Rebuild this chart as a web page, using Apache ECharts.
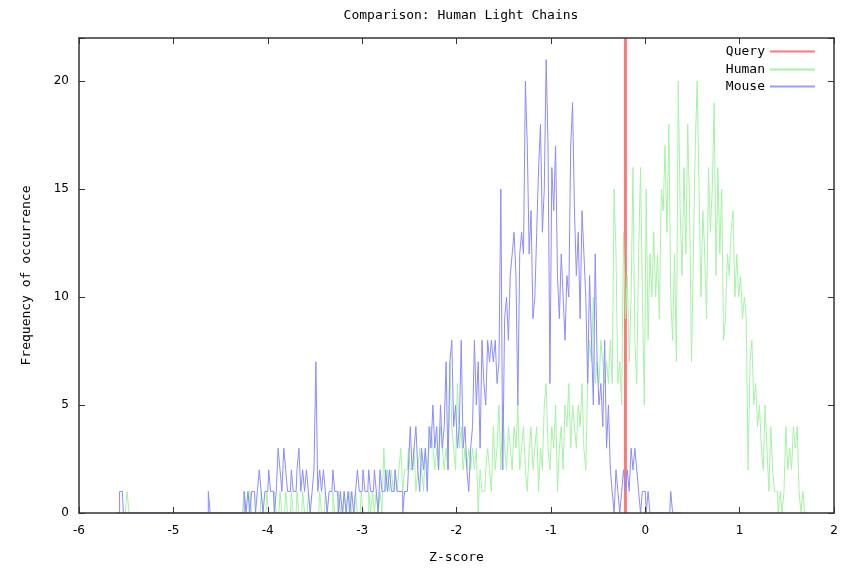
<!DOCTYPE html>
<html>
<head>
<meta charset="utf-8">
<script src="https://cdn.jsdelivr.net/npm/echarts@6/dist/echarts.min.js"></script>
<style>
html,body{margin:0;padding:0;background:#fff;}
#chart{width:843px;height:569px;}
</style>
</head>
<body>
<div id="chart"></div>
<script>
// ---- data (bin centres start at binStart, width binStep) ----
const binStart = -5.6;
const binStep = 0.02;
const mouseCounts = [
  0,0,1,1,0, 0,0,0,0,0, 0,0,0,0,0, 0,0,0,0,0, 0,0,0,0,0, 0,0,0,0,0,
  0,0,0,0,0, 0,0,0,0,0, 0,0,0,0,0, 0,0,0,0,1, 0,0,0,0,0, 0,0,0,0,0,
  0,0,0,0,0, 0,0,0,1,0, 1,0,1,1,0, 1,2,1,0,1, 1,2,1,1,0, 1,3,2,1,3,
  2,1,1,2,1, 1,2,3,1,2, 1,2,1,0,1, 2,7,1,2,1, 2,1,0,1,1, 2,1,1,0,1,
  0,1,0,1,0, 1,0,1,2,1, 1,2,1,1,2, 1,1,2,1,0, 2,1,1,2,1, 2,1,1,2,1,
  1,1,0,1,1, 2,4,2,3,4, 2,1,3,2,3, 1,4,3,5,3, 4,2,5,3,4, 7,2,7,8,4,
  5,3,4,8,3, 4,2,1,3,4, 8,5,7,3,8, 6,5,8,7,8, 7,8,6,7,15, 2,9,10,8,11,
  12,13,11,5,12, 13,12,20,17,12, 14,9,10,13,16, 18,13,15,21,17, 6,16,14,17,11, 9,12,10,8,11,
  10,17,19,14,11, 13,9,14,12,10, 6,11,8,5,12, 7,5,6,4,8, 3,5,2,1,0, 2,1,0,1,2,
  1,2,1,3,2, 3,2,1,0,1, 1,0,1,0,0, 0,0,0,0,0, 0,0,0,0,1, 0,0,0,0,0
];
const humanCounts = [
  0,0,0,0,0, 0,1,0,0,0, 0,0,0,0,0, 0,0,0,0,0, 0,0,0,0,0, 0,0,0,0,0,
  0,0,0,0,0, 0,0,0,0,0, 0,0,0,0,0, 0,0,0,0,0, 0,0,0,0,0, 0,0,0,0,0,
  0,0,0,0,0, 0,0,0,1,0, 0,1,0,0,0, 0,0,1,0,0, 1,0,0,0,1, 0,0,1,0,0,
  1,0,0,1,0, 0,1,0,0,1, 0,0,1,0,0, 0,0,0,1,0, 0,1,0,0,0, 1,0,0,1,0,
  0,1,0,0,1, 0,0,1,0,0, 1,0,0,0,1, 0,1,0,1,0, 1,0,3,1,2, 1,2,1,2,1,
  2,3,1,2,2, 3,2,2,3,1, 2,3,2,1,3, 2,3,4,3,2, 3,2,4,3,2, 3,2,7,4,3,
  2,6,3,4,2, 3,2,3,2,3, 2,3,0,2,1, 1,2,3,2,1, 4,2,3,5,2, 5,3,2,4,3,
  2,4,3,5,2, 3,4,2,1,3, 4,2,3,4,1, 3,2,5,6,3, 2,4,3,5,1, 3,4,2,5,4,
  6,3,5,4,3, 5,4,6,3,2, 6,8,7,10,6, 7,6,8,7,6, 7,6,8,6,15, 12,6,7,5,13,
  9,11,7,10,16, 8,6,12,16,10, 5,15,8,12,10, 13,10,12,9,15, 14,17,13,18,10, 8,12,7,20,14,
  11,16,12,18,14, 7,12,17,20,15, 10,14,12,9,16, 13,15,19,11,16, 12,15,8,9,12, 11,13,14,10,12,
  10,11,9,10,9, 2,7,8,5,6, 4,5,3,2,5, 3,1,4,2,1, 1,0,1,0,1, 4,2,3,2,4,
  3,4,1,0,1, 0,0
];
const queryZ = -0.21;
const queryRange = [0, 22];
const seriesNames = ['Query', 'Human', 'Mouse'];
const titleText = 'Comparison: Human Light Chains';
const xName = 'Z-score';
const yName = 'Frequency of occurrence';

function toPairs(counts) {
  return counts.map((c, i) => [+(binStart + i * binStep).toFixed(2), c]);
}

const mono = 'DejaVu Sans Mono';
const sans = 'DejaVu Sans';
const axisCol = '#333';

const chart = echarts.init(document.getElementById('chart'));

function legendFor(name, top, color) {
  return {
    data: [{ name: name, icon: 'rect', itemStyle: { color: color } }],
    right: 28, top: top, orient: 'vertical', align: 'right',
    itemWidth: 45, itemHeight: 2, padding: 0,
    selectedMode: false,
    textStyle: { fontFamily: mono, fontSize: 13, color: '#000' }
  };
}

chart.setOption({
  animation: false,
  backgroundColor: '#fff',
  title: {
    text: titleText, left: 456, top: 4, textAlign: 'center',
    textStyle: { fontFamily: mono, fontSize: 13, fontWeight: 'normal', color: '#000' }
  },
  legend: [
    legendFor(seriesNames[0], 45, '#ff7878'),
    legendFor(seriesNames[1], 63, '#a6f2a6'),
    legendFor(seriesNames[2], 80, '#9a9aff')
  ],
  grid: { left: 79, right: 9, top: 38, bottom: 51, show: false },
  xAxis: [{
    type: 'value', min: -6, max: 2, interval: 1, position: 'bottom', z: 10,
    name: xName, nameLocation: 'middle', nameGap: 38,
    nameTextStyle: { fontFamily: mono, fontSize: 13, color: '#000' },
    axisLine: { onZero: false, lineStyle: { color: axisCol, width: 1.5 } },
    axisTick: { inside: true, length: 6, lineStyle: { color: axisCol } },
    axisLabel: { fontFamily: sans, fontSize: 12, color: '#000', margin: 12 },
    splitLine: { show: false }
  }, {
    type: 'value', min: -6, max: 2, interval: 1, position: 'top', z: 10,
    axisLine: { onZero: false, lineStyle: { color: axisCol, width: 1.5 } },
    axisTick: { inside: true, length: 6, lineStyle: { color: axisCol } },
    axisLabel: { show: false }, splitLine: { show: false }
  }],
  yAxis: [{
    type: 'value', min: 0, max: 22, interval: 5, position: 'left', z: 10,
    name: yName, nameLocation: 'middle', nameGap: 46, nameRotate: 90,
    nameTextStyle: { fontFamily: mono, fontSize: 13, color: '#000' },
    axisLine: { show: true, onZero: false, lineStyle: { color: axisCol, width: 1.5 } },
    axisTick: { show: true, inside: true, length: 6, lineStyle: { color: axisCol } },
    axisLabel: { fontFamily: sans, fontSize: 12, color: '#000', margin: 10,
      formatter: v => (v % 5 === 0 && v <= 20) ? String(v) : '' },
    splitLine: { show: false }
  }, {
    type: 'value', min: 0, max: 22, interval: 5, position: 'right', z: 10,
    axisLine: { show: true, onZero: false, lineStyle: { color: axisCol, width: 1.5 } },
    axisTick: { show: true, inside: true, length: 6, lineStyle: { color: axisCol } },
    axisLabel: { show: false }, splitLine: { show: false }
  }],
  series: [{
    name: seriesNames[0], type: 'line', xAxisIndex: 0, yAxisIndex: 0,
    data: queryRange.map(v => [queryZ, v]),
    symbol: 'none', lineStyle: { color: '#ff7878', width: 3 }, itemStyle: { color: '#ff7878' }, z: 3
  }, {
    name: seriesNames[1], type: 'line', step: 'middle', xAxisIndex: 0, yAxisIndex: 0,
    data: toPairs(humanCounts),
    symbol: 'none', lineStyle: { color: '#a6f2a6', width: 1 }, itemStyle: { color: '#a6f2a6' }, z: 4
  }, {
    name: seriesNames[2], type: 'line', step: 'middle', xAxisIndex: 0, yAxisIndex: 0,
    data: toPairs(mouseCounts),
    symbol: 'none', lineStyle: { color: '#8c8cff', width: 1 }, itemStyle: { color: '#8c8cff' }, z: 5
  }]
});
</script>
</body>
</html>
